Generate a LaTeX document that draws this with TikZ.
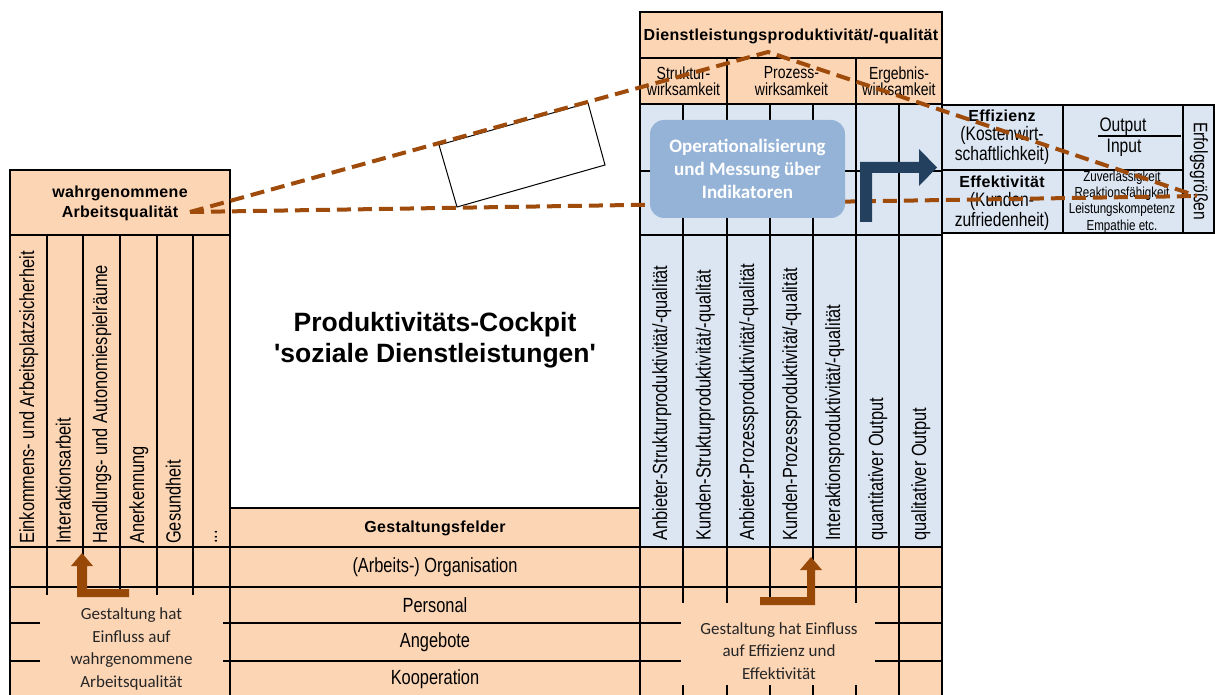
\documentclass[tikz,border=0pt]{standalone}
\usepackage{fontspec}
\setmainfont{Liberation Sans}
\newfontfamily\narrowf{Liberation Sans}[FakeStretch=0.8]
\newfontfamily\headf{Liberation Sans}[LetterSpace=2]
\newfontfamily\titlef{Liberation Sans}[Ligatures=TeXOff]
\newfontfamily\calibf{Carlito}
\definecolor{peachc}{HTML}{FCD5B5}
\definecolor{bluec}{HTML}{DCE6F2}
\definecolor{boxc}{HTML}{95B3D7}
\definecolor{navyc}{HTML}{24405F}
\definecolor{brownc}{HTML}{984807}
\definecolor{dashc}{HTML}{9E4B0C}
\begin{document}
\begin{tikzpicture}[x=1pt,y=-1pt,
  ln/.style={line width=2.2pt, line cap=rect},
  rot/.style={rotate=90, anchor=west, inner sep=0pt, text height=15pt, text depth=4pt, font=\narrowf\fontsize{20.5}{24}\selectfont},
  lbl/.style={inner sep=0pt, font=\narrowf\fontsize{20.5}{24}\selectfont},
  hdr/.style={inner sep=0pt, align=center, font=\headf\bfseries\fontsize{16}{20}\selectfont},
  sub/.style={inner sep=0pt, align=center, font=\narrowf\fontsize{17.5}{16.5}\selectfont},
  tbl/.style={inner sep=0pt, align=center, font=\narrowf\fontsize{19.5}{19.5}\selectfont},
  small/.style={inner sep=0pt, align=center, font=\narrowf\fontsize{14.5}{16.3}\selectfont},
  note/.style={inner sep=0pt, align=center, text=black!85, font=\calibf\fontsize{17}{22.5}\selectfont},
  dashln/.style={draw=dashc, line width=4pt, dash pattern=on 14pt off 7pt},
  opbox/.style={fill=boxc, rounded corners=14pt, minimum width=195pt, minimum height=98pt, inner sep=0pt, align=center, text=white, font=\calibf\bfseries\fontsize{19}{23}\selectfont},
  bentarrow/.style={fill=navyc},
  brownarrow/.style={fill=brownc}
]
\useasboundingbox (0,0) rectangle (1215,695);
\fill[white] (0,0) rectangle (1215,695);

% ---------- fills
\fill[peachc] (10,170) rectangle (230,695);
\fill[peachc] (230,508) rectangle (640,695);
\fill[peachc] (640,12) rectangle (942,104);
\fill[bluec] (640,104) rectangle (942,547);
\fill[peachc] (640,547) rectangle (942,695);
\fill[bluec] (942,105) rectangle (1214,233);

% ---------- grid: left block
\draw[ln] (10,695) -- (10,170) -- (230,170) -- (230,695);
\foreach \yy in {235,547,587,623,661} \draw[ln] (10,\yy) -- (230,\yy);
\foreach \xx in {47,83,120,157,193} \draw[ln] (\xx,235) -- (\xx,595);
% middle block
\foreach \yy in {508,547,587,623,661} \draw[ln] (230,\yy) -- (640,\yy);
% right block
\draw[ln] (640,695) -- (640,12) -- (942,12) -- (942,695);
\foreach \yy in {58,104,171,235,547,587,623,661} \draw[ln] (640,\yy) -- (942,\yy);
\draw[ln] (727,58) -- (727,104);
\draw[ln] (856,58) -- (856,104);
\foreach \xx in {683,727,770,813,856,899} \draw[ln] (\xx,104) -- (\xx,695);
% result table
\draw[ln] (942,105) -- (1214,105) -- (1214,233) -- (942,233);
\draw[ln] (942,170) -- (1183,170);
\draw[ln] (1063,105) -- (1063,233);
\draw[ln] (1183,105) -- (1183,233);
\draw[line width=1.6pt] (1098,136) -- (1181,136);

% ---------- texts
\node[hdr] (waq) at (120,203) {wahrgenommene\\Arbeitsqualit\"at};
\node[rot] (l1) at (28.5,544) {Einkommens- und Arbeitsplatzsicherheit};
\node[rot] (l2) at (65,544) {Interaktionsarbeit};
\node[rot] (l3) at (101.5,544) {Handlungs- und Autonomiespielr\"aume};
\node[rot] (l4) at (138.5,544) {Anerkennung};
\node[rot] (l5) at (175,544) {Gesundheit};
\node[rot] (l6) at (211.5,544) {...};

\node[inner sep=0pt, align=center, font=\titlef\bfseries\fontsize{26.5}{31}\selectfont] (title) at (435,340) {Produktivit\"ats-Cockpit\\'soziale Dienstleistungen'};

\node[hdr] (gf) at (435,528) {Gestaltungsfelder};
\node[lbl] (r1) at (435,567) {(Arbeits-) Organisation};
\node[lbl] (r2) at (435,605) {Personal};
\node[lbl] (r3) at (435,642) {Angebote};
\node[lbl] (r4) at (435,679) {Kooperation};

\node[hdr] (dq) at (791,36) {Dienstleistungsproduktivit\"at/-qualit\"at};
\node[sub] (s1) at (683.5,81) {Struktur-\\wirksamkeit};
\node[sub] (s2) at (791.5,81) {Prozess-\\wirksamkeit};
\node[sub] (s3) at (899,81) {Ergebnis-\\wirksamkeit};

\node[rot] (c1) at (661.5,541) {Anbieter-Strukturproduktivit\"at/-qualit\"at};
\node[rot] (c2) at (705,541) {Kunden-Strukturproduktivit\"at/-qualit\"at};
\node[rot] (c3) at (748.5,541) {Anbieter-Prozessproduktivit\"at/-qualit\"at};
\node[rot] (c4) at (791.5,541) {Kunden-Prozessproduktivit\"at/-qualit\"at};
\node[rot] (c5) at (834.5,541) {Interaktionsproduktivit\"at/-qualit\"at};
\node[rot] (c6) at (877.5,541) {quantitativer Output};
\node[rot] (c7) at (920.5,541) {qualitativer Output};

\node[tbl] (eff) at (1002,137) {{\headf\bfseries\fontsize{16}{19}\selectfont Effizienz}\\(Kostenwirt-\\schaftlichkeit)};
\node[tbl] (efk) at (1002,203) {{\headf\bfseries\fontsize{16}{19}\selectfont Effektivit\"at}\\(Kunden-\\zufriedenheit)};
\node[tbl] (out) at (1123,127) {Output};
\node[tbl] (inp) at (1124,148) {Input};
\node[small] (crit) at (1122,202) {Zuverl\"assigkeit\\Reaktionsf\"ahigkeit\\Leistungskompetenz\\Empathie etc.};
\node[tbl, rotate=-90] (eg) at (1199,171) {Erfolgsgr\"o\ss en};

% ---------- magnifier
\draw[line width=1pt, fill=white] (439,145) -- (588,103) -- (605,165) -- (457,207) -- cycle;
\coordinate (pa) at (190,212);
\coordinate (pb) at (768,52);
\coordinate (pc) at (1197,196);
\draw[dashln] (pa) -- (pb) -- (pc);
\draw[dashln] (pa) -- (pc);

% ---------- operationalisation box and arrow
\node[opbox] (op) at (747.5,169) {Operationalisierung\\und Messung \"uber\\Indikatoren};
\fill[bentarrow] (860,222) -- (860,162) -- (919,162) -- (919,149) -- (937,167.5) -- (919,186) -- (919,173) -- (872,173) -- (872,222) -- cycle;

% ---------- notes
\fill[peachc] (40,595) rectangle (223,695);
\node[note] (n1) at (131.5,649) {Gestaltung hat\\Einfluss auf\\wahrgenommene\\Arbeitsqualit\"at};
\fill[peachc] (681,603) rectangle (875,685);
\node[note] (n2) at (779,651) {Gestaltung hat Einfluss\\auf Effizienz und\\Effektivit\"at};

% ---------- brown arrows
\fill[brownarrow] (87,589) -- (129,589) -- (129,597) -- (77,597) -- (77,566) -- (71,566) -- (82,553) -- (93,566) -- (87,566) -- cycle;
\fill[brownarrow] (760,597) -- (807,597) -- (807,570) -- (800,570) -- (811,557) -- (822,570) -- (815,570) -- (815,605) -- (760,605) -- cycle;
\end{tikzpicture}
\end{document}
